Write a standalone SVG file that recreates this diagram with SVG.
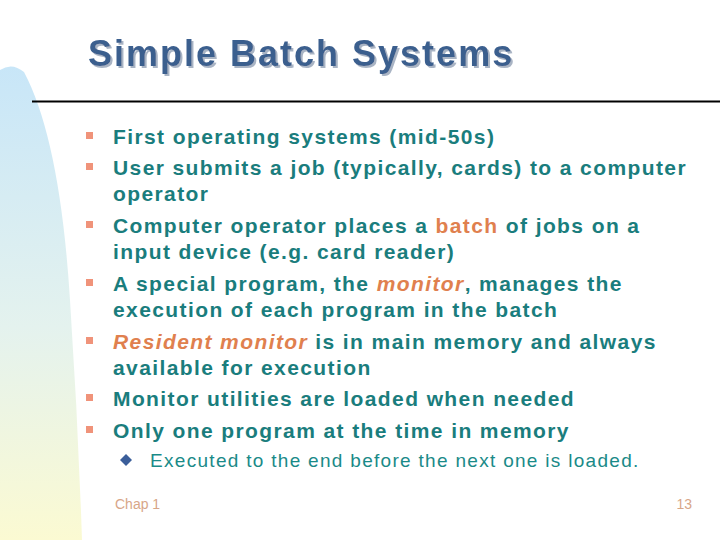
<svg xmlns="http://www.w3.org/2000/svg" width="720" height="540" viewBox="0 0 720 540">
<defs>
<linearGradient id="g" x1="0" y1="0" x2="0" y2="1">
<stop offset="0" stop-color="#c8e6f8"/><stop offset="0.55" stop-color="#e4f2ee"/><stop offset="1" stop-color="#fbfad2"/>
</linearGradient>
<filter id="sh" x="-5%" y="-20%" width="110%" height="140%">
<feDropShadow dx="2" dy="2" stdDeviation="0.5" flood-color="#a9b4c4"/>
</filter>
</defs>
<style>
.t{font-family:"Liberation Sans",Arial,sans-serif;font-weight:bold;font-size:21px;fill:#1a7d7d;letter-spacing:1.4px}
.h{fill:#e0804e;font-style:italic}
.b{fill:#f0937a}
.f{font-family:"Liberation Sans",Arial,sans-serif;font-size:14px;fill:#d8a688}
</style>
<rect width="720" height="540" fill="#fff"/>
<path d="M0,540 L0,70 Q12,62 24,72 Q60,140 70,300 Q78,420 82,540 Z" fill="url(#g)"/>
<g id="title">
<text x="88" y="66" font-family="Liberation Sans,Arial,sans-serif" font-weight="bold" font-size="36" letter-spacing="2" fill="#3b5e8e" filter="url(#sh)">Simple Batch Systems</text>
</g>
<line x1="32" y1="101.5" x2="720" y2="101.5" stroke="#000" stroke-width="2"/>
<g id="bullets">
<rect class="b" x="86" y="132" width="7" height="7"/>
<rect class="b" x="86" y="163" width="7" height="7"/>
<rect class="b" x="86" y="221" width="7" height="7"/>
<rect class="b" x="86" y="279" width="7" height="7"/>
<rect class="b" x="86" y="337" width="7" height="7"/>
<rect class="b" x="86" y="394" width="7" height="7"/>
<rect class="b" x="86" y="426" width="7" height="7"/>
<path d="M126,454 L132,460 L126,466 L120,460 Z" fill="#3b5e9a"/>
</g>
<g id="text">
<text class="t" x="113" y="144">First operating systems (mid-50s)</text>
<text class="t" x="113" y="175">User submits a job (typically, cards) to a computer</text>
<text class="t" x="113" y="201">operator</text>
<text class="t" x="113" y="233">Computer operator places a <tspan class="h" style="font-style:normal">batch</tspan> of jobs on a</text>
<text class="t" x="113" y="259">input device (e.g. card reader)</text>
<text class="t" x="113" y="291">A special program, the <tspan class="h">monitor</tspan>, manages the</text>
<text class="t" x="113" y="317">execution of each program in the batch</text>
<text class="t" x="113" y="349"><tspan class="h">Resident monitor</tspan> is in main memory and always</text>
<text class="t" x="113" y="375">available for execution</text>
<text class="t" x="113" y="406">Monitor utilities are loaded when needed</text>
<text class="t" x="113" y="438">Only one program at the time in memory</text>
<text x="150" y="467" font-family="Liberation Sans,Arial,sans-serif" font-size="19" letter-spacing="1.3" fill="#1a8a88">Executed to the end before the next one is loaded.</text>
</g>
<text class="f" x="115" y="509">Chap 1</text>
<text class="f" x="692" y="509" text-anchor="end">13</text>
</svg>
